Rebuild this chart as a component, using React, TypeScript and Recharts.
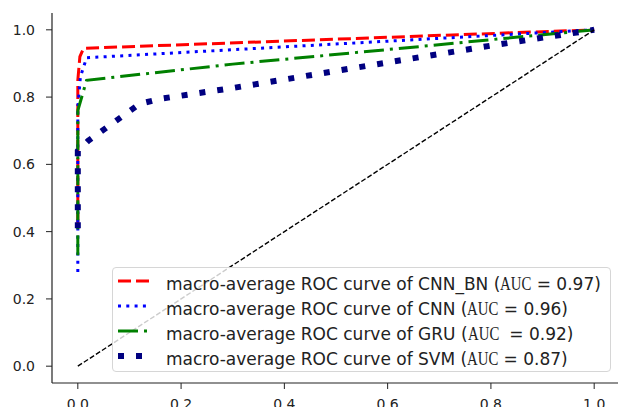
import React from 'react';
import { LineChart, Line, XAxis, YAxis, Legend } from 'recharts';

// false positive / true positive rates
const cnnBnFpr = [0, 0, 0.004, 0.011, 1];
const cnnBnTpr = [0.42, 0.85, 0.92, 0.945, 1];
const cnnFpr = [0, 0, 0.005, 0.017, 1];
const cnnTpr = [0.28, 0.77, 0.86, 0.917, 1];
const gruFpr = [0, 0, 0.017, 0.3, 0.66, 1];
const gruTpr = [0.33, 0.76, 0.85, 0.898, 0.95, 1];
const svmFpr = [0, 0, 0.02, 0.12, 0.16, 0.3, 0.6, 0.8, 1];
const svmTpr = [0.41, 0.64, 0.67, 0.78, 0.795, 0.827, 0.903, 0.953, 1];
const chanceFpr = [0, 1];
const chanceTpr = [0, 1];

const ticks = [0, 0.2, 0.4, 0.6, 0.8, 1.0];

const modelNames = ['CNN_BN', 'CNN', 'GRU', 'SVM'];
const aucLabels = [' = 0.97)', ' = 0.96)', '  = 0.92)', ' = 0.87)'];

const toPoints = (fpr: number[], tpr: number[]) => fpr.map((x, i) => ({ x, y: tpr[i] }));

const series = [
  { name: modelNames[0], data: toPoints(cnnBnFpr, cnnBnTpr), color: '#ff0000', width: 3, dash: '13 5' },
  { name: modelNames[1], data: toPoints(cnnFpr, cnnTpr), color: '#0000ff', width: 3, dash: '3 5.3' },
  { name: modelNames[2], data: toPoints(gruFpr, gruTpr), color: '#008000', width: 3, dash: '20 6 3 6' },
  { name: modelNames[3], data: toPoints(svmFpr, svmTpr), color: '#000080', width: 6, dash: '6 12' },
];

const font = { fontFamily: 'DejaVu Sans', fontSize: 14, fill: '#222' };

function RocLegend() {
  return (
    <div
      style={{
        position: 'relative',
        width: 499,
        height: 105,
        boxSizing: 'border-box',
        border: '1px solid #d6d6d6',
        borderRadius: 4,
        background: 'rgba(255,255,255,0.8)',
      }}
    >
      {series.map((s, i) => {
        const cy = 16 + i * 25;
        return (
          <div key={s.name} style={{ position: 'absolute', left: 0, top: cy - 12, height: 24, width: '100%' }}>
            <svg width={32} height={24} style={{ position: 'absolute', left: 4, top: 0 }}>
              <line x1={1} y1={9} x2={32} y2={9} stroke={s.color} strokeWidth={s.width} strokeDasharray={s.dash} />
            </svg>
            <div
              style={{
                position: 'absolute',
                left: 53,
                top: 0,
                lineHeight: '24px',
                fontFamily: 'DejaVu Sans',
                fontSize: 17,
                color: '#222',
                whiteSpace: 'pre',
              }}
            >
              {'macro-average ROC curve of ' + s.name + ' ('}
              <span style={{ display: 'inline-block', width: 31, verticalAlign: 'top' }}>
                <span
                  style={{
                    display: 'inline-block',
                    fontFamily: 'Liberation Serif',
                    fontSize: 18.5,
                    transform: 'scaleX(0.8)',
                    transformOrigin: 'left center',
                  }}
                >
                  AUC
                </span>
              </span>
              {aucLabels[i]}
            </div>
          </div>
        );
      })}
    </div>
  );
}

export default function App() {
  return (
    <div style={{ position: 'absolute', left: 0, top: 0, width: 618, height: 407, overflow: 'hidden', background: '#fff' }}>
      <LineChart width={620} height={407} margin={{ top: 13, right: 0, bottom: 0, left: 0 }}>
        <XAxis
          type="number"
          dataKey="x"
          domain={[-0.05, 1.05]}
          ticks={ticks}
          tickFormatter={(v: number) => v.toFixed(1)}
          height={24}
          tickSize={6}
          tickMargin={10}
          tick={font}
          axisLine={{ stroke: '#222', strokeWidth: 1.2 }}
          tickLine={{ stroke: '#222', strokeWidth: 1 }}
          allowDuplicatedCategory={false}
        />
        <XAxis xAxisId="top" orientation="top" type="number" domain={[-0.05, 1.05]} height={0} tick={false} tickLine={false} axisLine={{ stroke: '#222', strokeWidth: 1.2 }} />
        <YAxis
          type="number"
          domain={[-0.05, 1.05]}
          ticks={ticks}
          tickFormatter={(v: number) => v.toFixed(1)}
          width={52}
          tickSize={6}
          tickMargin={11}
          tick={font}
          axisLine={{ stroke: '#222', strokeWidth: 1.2 }}
          tickLine={{ stroke: '#222', strokeWidth: 1 }}
        />
        <YAxis yAxisId="right" orientation="right" type="number" domain={[-0.05, 1.05]} width={0} tick={false} tickLine={false} axisLine={{ stroke: '#222', strokeWidth: 1.2 }} />
        {series.map((s) => (
          <Line
            key={s.name}
            data={s.data}
            dataKey="y"
            name={s.name}
            type="linear"
            stroke={s.color}
            strokeWidth={s.width}
            strokeDasharray={s.dash}
            dot={false}
            activeDot={false}
            isAnimationActive={false}
          />
        ))}
        <Line
          data={toPoints(chanceFpr, chanceTpr)}
          dataKey="y"
          name="chance"
          type="linear"
          stroke="#000"
          strokeWidth={1.4}
          strokeDasharray="5 2.2"
          dot={false}
          activeDot={false}
          legendType="none"
          isAnimationActive={false}
        />
        <Legend
          layout="horizontal"
          align="center"
          verticalAlign="middle"
          content={() => <RocLegend />}
          wrapperStyle={{ left: 112, top: 267, width: 499, height: 105 }}
        />
      </LineChart>
    </div>
  );
}
